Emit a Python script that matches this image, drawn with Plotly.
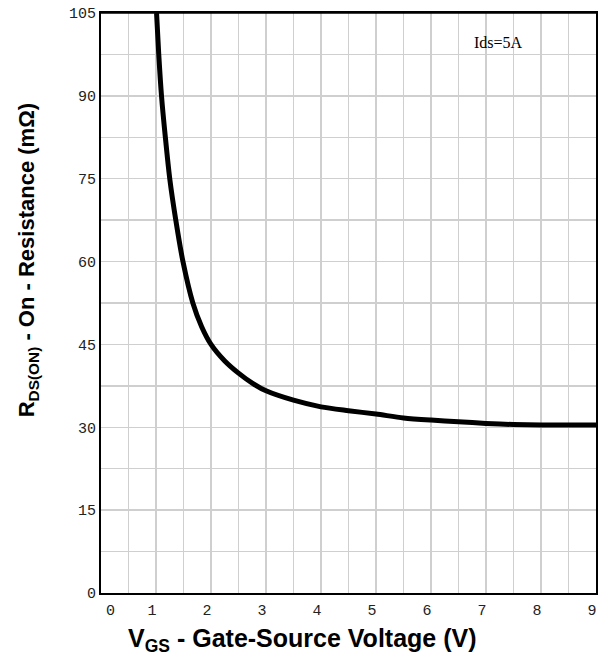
import plotly.graph_objects as go

# Data
vgs = [1.01, 1.05, 1.10, 1.17, 1.25, 1.36, 1.49, 1.67, 1.83, 2.0, 2.25, 2.5, 2.75,
       3.0, 3.5, 4.0, 4.5, 5.0, 5.5, 6.0, 6.5, 7.0, 7.5, 8.0, 8.5, 9.0]
rdson = [105, 97.5, 90, 82.5, 75, 67.5, 60, 52.5, 48.2, 45, 42.0, 39.8, 38.0,
         36.6, 34.9, 33.7, 33.0, 32.4, 31.7, 31.3, 31.0, 30.7, 30.5, 30.4, 30.4, 30.4]

x_ticks = [0, 1, 2, 3, 4, 5, 6, 7, 8, 9]
x_tick_labels = ["\u00a0\u00a0\u00a00", "1", "2", "3", "4", "5", "6", "7", "8", "9"]
y_ticks = [0, 15, 30, 45, 60, 75, 90, 105]
y_tick_labels = ["0", "15", "30", "45", "60", "75", "90", "105"]

fig = go.Figure()
fig.add_trace(go.Scatter(
    x=vgs, y=rdson, mode="lines",
    line=dict(color="black", width=5, shape="spline", smoothing=0.8),
    hoverinfo="skip", showlegend=False,
))

grid_col = "#cfcfcf"
tick_font = dict(family="Liberation Mono", size=15, color="#222222")

fig.update_layout(
    width=598, height=661,
    margin=dict(l=101, r=0, t=13, b=68),
    paper_bgcolor="white", plot_bgcolor="white",
    xaxis=dict(
        range=[0, 9], tickvals=x_ticks, ticktext=x_tick_labels,
        showgrid=False, zeroline=False,
        showline=True, linecolor="black", linewidth=2, mirror=True,
        ticks="", tickfont=tick_font, ticklabelstandoff=2, ticklabelshift=-4,
        ticklabeloverflow="allow",
        minor=dict(dtick=0.5, tick0=0, showgrid=True, gridcolor=grid_col, gridwidth=1.5),
    ),
    yaxis=dict(
        range=[0, 105], tickvals=y_ticks, ticktext=y_tick_labels,
        showgrid=False, zeroline=False,
        showline=True, linecolor="black", linewidth=2, mirror=True,
        ticks="", tickfont=tick_font, ticklabelstandoff=0,
        ticklabeloverflow="allow",
        minor=dict(dtick=7.5, tick0=0, showgrid=True, gridcolor=grid_col, gridwidth=1.5),
    ),
    shapes=[
        dict(type="line", xref="paper", yref="paper", x0=0, x1=1, y0=1, y1=1,
             line=dict(color="black", width=1.5), layer="above"),
    ],
    annotations=[
        dict(text="Ids=5A", x=7.22, y=99.6, xref="x", yref="y", showarrow=False,
             font=dict(family="Liberation Serif", size=16, color="black")),
        dict(text="<b>V<sub>GS</sub> - Gate-Source Voltage (V)</b>",
             x=303, y=640, xref="paper", yref="paper", showarrow=False,
             xanchor="center", yanchor="middle",
             font=dict(family="Liberation Sans", size=25, color="black")),
        dict(text="<b>R<sub>DS(ON)</sub> - On - Resistance (mΩ)</b>",
             x=28, y=260, xref="paper", yref="paper", showarrow=False, textangle=-90,
             xanchor="center", yanchor="middle",
             font=dict(family="Liberation Sans", size=22, color="black")),
    ],
)

# convert page-pixel positions of the two axis titles into paper coords
pw, ph = 497, 580
for ann in fig.layout.annotations[1:]:
    ann.x = (ann.x - 101) / pw
    ann.y = 1 - (ann.y - 13) / ph

fig.write_html(
    "out.html",
    config={"displayModeBar": False, "staticPlot": True},
    post_script="document.body.style.margin='0';document.body.style.overflow='hidden';",
)
